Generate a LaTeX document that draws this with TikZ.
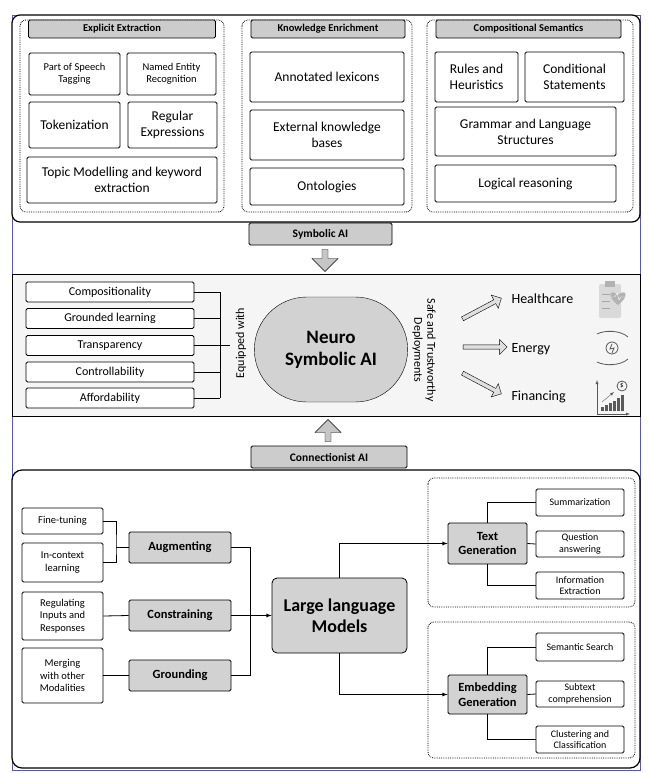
\documentclass[tikz,border=0pt]{standalone}
\usepackage{fontspec}
\setmainfont{Carlito}
\usetikzlibrary{shapes.arrows,shapes.misc}
\begin{document}
\begin{tikzpicture}[x=1pt, y=-1pt,
    box/.style={draw=black, thick, rounded corners=1.5pt, fill=white, align=center, inner sep=1pt},
    hdr/.style={box, fill=gray!40, font=\fontsize{10.5}{11}\selectfont\bfseries, minimum height=18pt},
    grp/.style={draw=black, densely dotted, thick, rounded corners=6pt},
    lbl/.style={hdr, font=\fontsize{11.5}{12}\selectfont\bfseries, minimum height=22pt},
    bigarrow/.style={single arrow, draw=black, fill=gray!45, minimum height=22pt, minimum width=26pt, single arrow head extend=4pt, inner sep=1pt},
    sidearrow/.style={single arrow, draw=black, fill=gray!25, minimum height=44pt, minimum width=15pt, single arrow head extend=3pt, inner sep=1pt},
    small/.style={font=\fontsize{10.5}{12.5}\selectfont},
    mid/.style={font=\fontsize{13.5}{16}\selectfont},
    leaf/.style={box, font=\fontsize{10}{11.5}\selectfont, minimum width=88pt},
    gbox/.style={box, fill=gray!35, font=\fontsize{12.5}{14.5}\selectfont\bfseries}
]
    \useasboundingbox (0,0) rectangle (648,773);
    \draw[blue!30!gray, line width=0.6pt] (12,15) rectangle (640,770);

    % symbolic part
    \draw[very thick, rounded corners=8pt, fill=white] (12,15) rectangle (640,222);
    \draw[grp] (20,20) rectangle (224,212);
    \draw[grp] (242,20) rectangle (412,212);
    \draw[grp] (427,20) rectangle (633,212);

    \node[hdr, minimum width=187pt] (hdrA) at (122,29) {Explicit Extraction};
    \node[box, small, minimum width=91pt, minimum height=42pt] (pos) at (74.5,74) {Part of Speech\\Tagging};
    \node[box, small, minimum width=89pt, minimum height=42pt] (ner) at (171.5,74) {Named Entity\\Recognition};
    \node[box, mid, minimum width=91pt, minimum height=46pt] (tok) at (74.5,125) {Tokenization};
    \node[box, mid, minimum width=89pt, minimum height=46pt] (regex) at (172.5,125) {Regular\\Expressions};
    \node[box, mid, minimum width=190pt, minimum height=46pt] (topic) at (122,180) {Topic Modelling and keyword\\extraction};

    \node[hdr, minimum width=154pt] (hdrB) at (328,29) {Knowledge Enrichment};
    \node[box, mid, minimum width=154pt, minimum height=50pt] (lex) at (327,77) {Annotated lexicons};
    \node[box, mid, minimum width=154pt, minimum height=50pt] (kb) at (327,135) {External knowledge\\bases};
    \node[box, mid, minimum width=154pt, minimum height=37pt] (onto) at (327,186.5) {Ontologies};

    \node[hdr, minimum width=185pt] (hdrC) at (528.5,29) {Compositional Semantics};
    \node[box, mid, minimum width=83pt, minimum height=50pt] (rules) at (476.5,77) {Rules and\\Heuristics};
    \node[box, mid, minimum width=99pt, minimum height=50pt] (cond) at (574.5,77) {Conditional\\Statements};
    \node[box, mid, minimum width=181pt, minimum height=49pt] (gram) at (525.5,131.5) {Grammar and Language\\Structures};
    \node[box, mid, minimum width=181pt, minimum height=37pt] (logic) at (525.5,183.5) {Logical reasoning};

    \node[lbl, minimum width=143pt] (symb) at (320.5,234) {Symbolic AI};
    \node[bigarrow, rotate=-90] (down) at (325,259) {};

    % neuro-symbolic band
    \draw[fill=gray!8, thin] (12,274) rectangle (640,416);
    \foreach \name/\txt/\y in {comp/Compositionality/292, grd/Grounded learning/318.5, trans/Transparency/345.5, ctrl/Controllability/372, aff/Affordability/398}
        \node[box, font=\fontsize{12}{13}\selectfont, minimum width=168pt, minimum height=20pt] (\name) at (110,\y) {\txt};
    \coordinate (jE) at (220,345.5);
    \foreach \name in {comp, grd, trans, ctrl, aff}
        \draw[thick] (\name.east) -- (\name.east -| jE);
    \draw[thick] (comp.east -| jE) -- (aff.east -| jE);
    \draw[thick] (jE) -- ++(10,0);
    \node[rotate=90, font=\fontsize{12}{13}\selectfont] (equip) at (241,343) {Equipped with};

    \node[draw=black, rounded rectangle, fill=gray!35, minimum width=160pt, minimum height=105pt, align=center, font=\fontsize{19}{22}\selectfont\bfseries] (nsai) at (331,349.5) {Neuro\\Symbolic AI};
    \node[rotate=-90, align=center, font=\fontsize{12}{13}\selectfont] (safe) at (424,350) {Safe and Trustworthy\\Deployments};

    \node[sidearrow, rotate=28] (arH) at (481,309) {};
    \node[sidearrow] (arE) at (484,347) {};
    \node[sidearrow, rotate=-28] (arF) at (481,383) {};
    \node[anchor=west, font=\fontsize{14}{15}\selectfont] (health) at (508,299) {Healthcare};
    \node[anchor=west, font=\fontsize{14}{15}\selectfont] (energy) at (508,349) {Energy};
    \node[anchor=west, font=\fontsize{14}{15}\selectfont] (fin) at (508,397) {Financing};

    % icons
    \fill[gray!30, rounded corners=2pt] (599,284) rectangle (621,318);
    \fill[gray!60] (605,281) rectangle (615,287);
    \foreach \yy in {294,301,308} \draw[gray!70, thick] (602,\yy) -- (610,\yy);
    \fill[gray!60] (618,305) .. controls (606,296) and (610,288) .. (618,295) .. controls (626,288) and (630,296) .. (618,305);
    \draw[white, thin] (611,297) -- (615,297) -- (617,293) -- (619,300) -- (621,297) -- (625,297);
    \draw[gray!70!black, thick] (612,348) circle (6pt);
    \draw[gray!70!black, thick] (612,344) -- (610,349) -- (614,348) -- (612,353);
    \draw[gray!70!black, thick] (597,334) .. controls (605,330) and (620,330) .. (628,337);
    \draw[gray!70!black, thick] (597,362) .. controls (605,366) and (620,366) .. (628,359);
    \draw[gray!70!black, -latex] (597,414) -- (597,380);
    \draw[gray!70!black, -latex] (597,414) -- (630,414);
    \foreach \xx/\hh in {601/4, 605/6, 609/8, 613/10, 617/13, 621/16}
        \fill[gray!70!black] (\xx,411) rectangle ++(2.5,-\hh);
    \draw[gray!70!black, thick] (622,386) circle (5pt);
    \node[font=\fontsize{7}{7}\selectfont] (dollar) at (622,386) {\$};
    \draw[gray!70!black, -latex] (602,402) -- (614,392);

    \node[bigarrow, rotate=90] (up) at (328,432) {};
    \node[lbl, minimum width=156pt] (conn) at (329,457) {Connectionist AI};

    % connectionist part
    \draw[very thick, rounded corners=10pt, fill=white] (12,470) rectangle (640,768);
    \draw[grp] (428,478) rectangle (635,607);
    \draw[grp] (428,622) rectangle (635,758);

    \node[box, small, minimum width=81pt, minimum height=26pt] (fine) at (62.5,521) {Fine-tuning};
    \node[box, small, minimum width=81pt, minimum height=39pt] (icl) at (62.5,562.5) {In-context\\learning};
    \node[box, small, minimum width=81pt, minimum height=48pt] (reg) at (62.5,616) {Regulating\\Inputs and\\Responses};
    \node[box, small, minimum width=81pt, minimum height=55pt] (merge) at (62.5,675.5) {Merging\\with other\\Modalities};

    \node[gbox, minimum width=102pt, minimum height=31pt] (aug) at (180,547.5) {Augmenting};
    \node[gbox, minimum width=102pt, minimum height=31pt] (cons) at (180,615.5) {Constraining};
    \node[gbox, minimum width=102pt, minimum height=31pt] (grnd) at (180,675.5) {Grounding};

    \node[box, fill=gray!35, rounded corners=5pt, minimum width=135pt, minimum height=75pt, font=\fontsize{18}{21}\selectfont\bfseries] (llm) at (339.5,615.5) {Large language\\Models};

    \coordinate (jA) at (116,547.5);
    \coordinate (jB) at (250,615.5);
    \draw[thick] (fine.east) -| (jA) |- (icl.east);
    \draw[thick] (jA) -- (aug.west);
    \draw[thick] (reg.east) -- (cons.west);
    \draw[thick] (merge.east) -- (grnd.west);
    \draw[thick] (aug.east) -| (jB);
    \draw[thick] (grnd.east) -| (jB);
    \draw[thick, -latex] (cons.east) -- (llm.west);

    \node[gbox, minimum width=79pt, minimum height=41pt] (tgen) at (487.5,543.5) {Text\\Generation};
    \node[gbox, minimum width=79pt, minimum height=39pt] (egen) at (487.5,694.5) {Embedding\\Generation};
    \draw[thick, -latex] (llm.north) |- (tgen.west);
    \draw[thick, -latex] (llm.south) |- (egen.west);

    \node[leaf, minimum height=27pt] (summ) at (580,502.5) {Summarization};
    \node[leaf, minimum height=26pt] (qa) at (580,544) {Question\\answering};
    \node[leaf, minimum height=27pt] (info) at (580,585.5) {Information\\Extraction};
    \node[leaf, minimum height=28pt] (sem) at (580,647) {Semantic Search};
    \node[leaf, minimum height=26pt] (sub) at (580,694) {Subtext\\comprehension};
    \node[leaf, minimum height=27pt] (clus) at (580,739.5) {Clustering and\\Classification};

    \draw[thick] (tgen.north) |- (summ.west);
    \draw[thick] (tgen.east) -- (qa.west);
    \draw[thick] (tgen.south) |- (info.west);
    \draw[thick] (egen.north) |- (sem.west);
    \draw[thick] (egen.east) -- (sub.west);
    \draw[thick] (egen.south) |- (clus.west);
\end{tikzpicture}
\end{document}
